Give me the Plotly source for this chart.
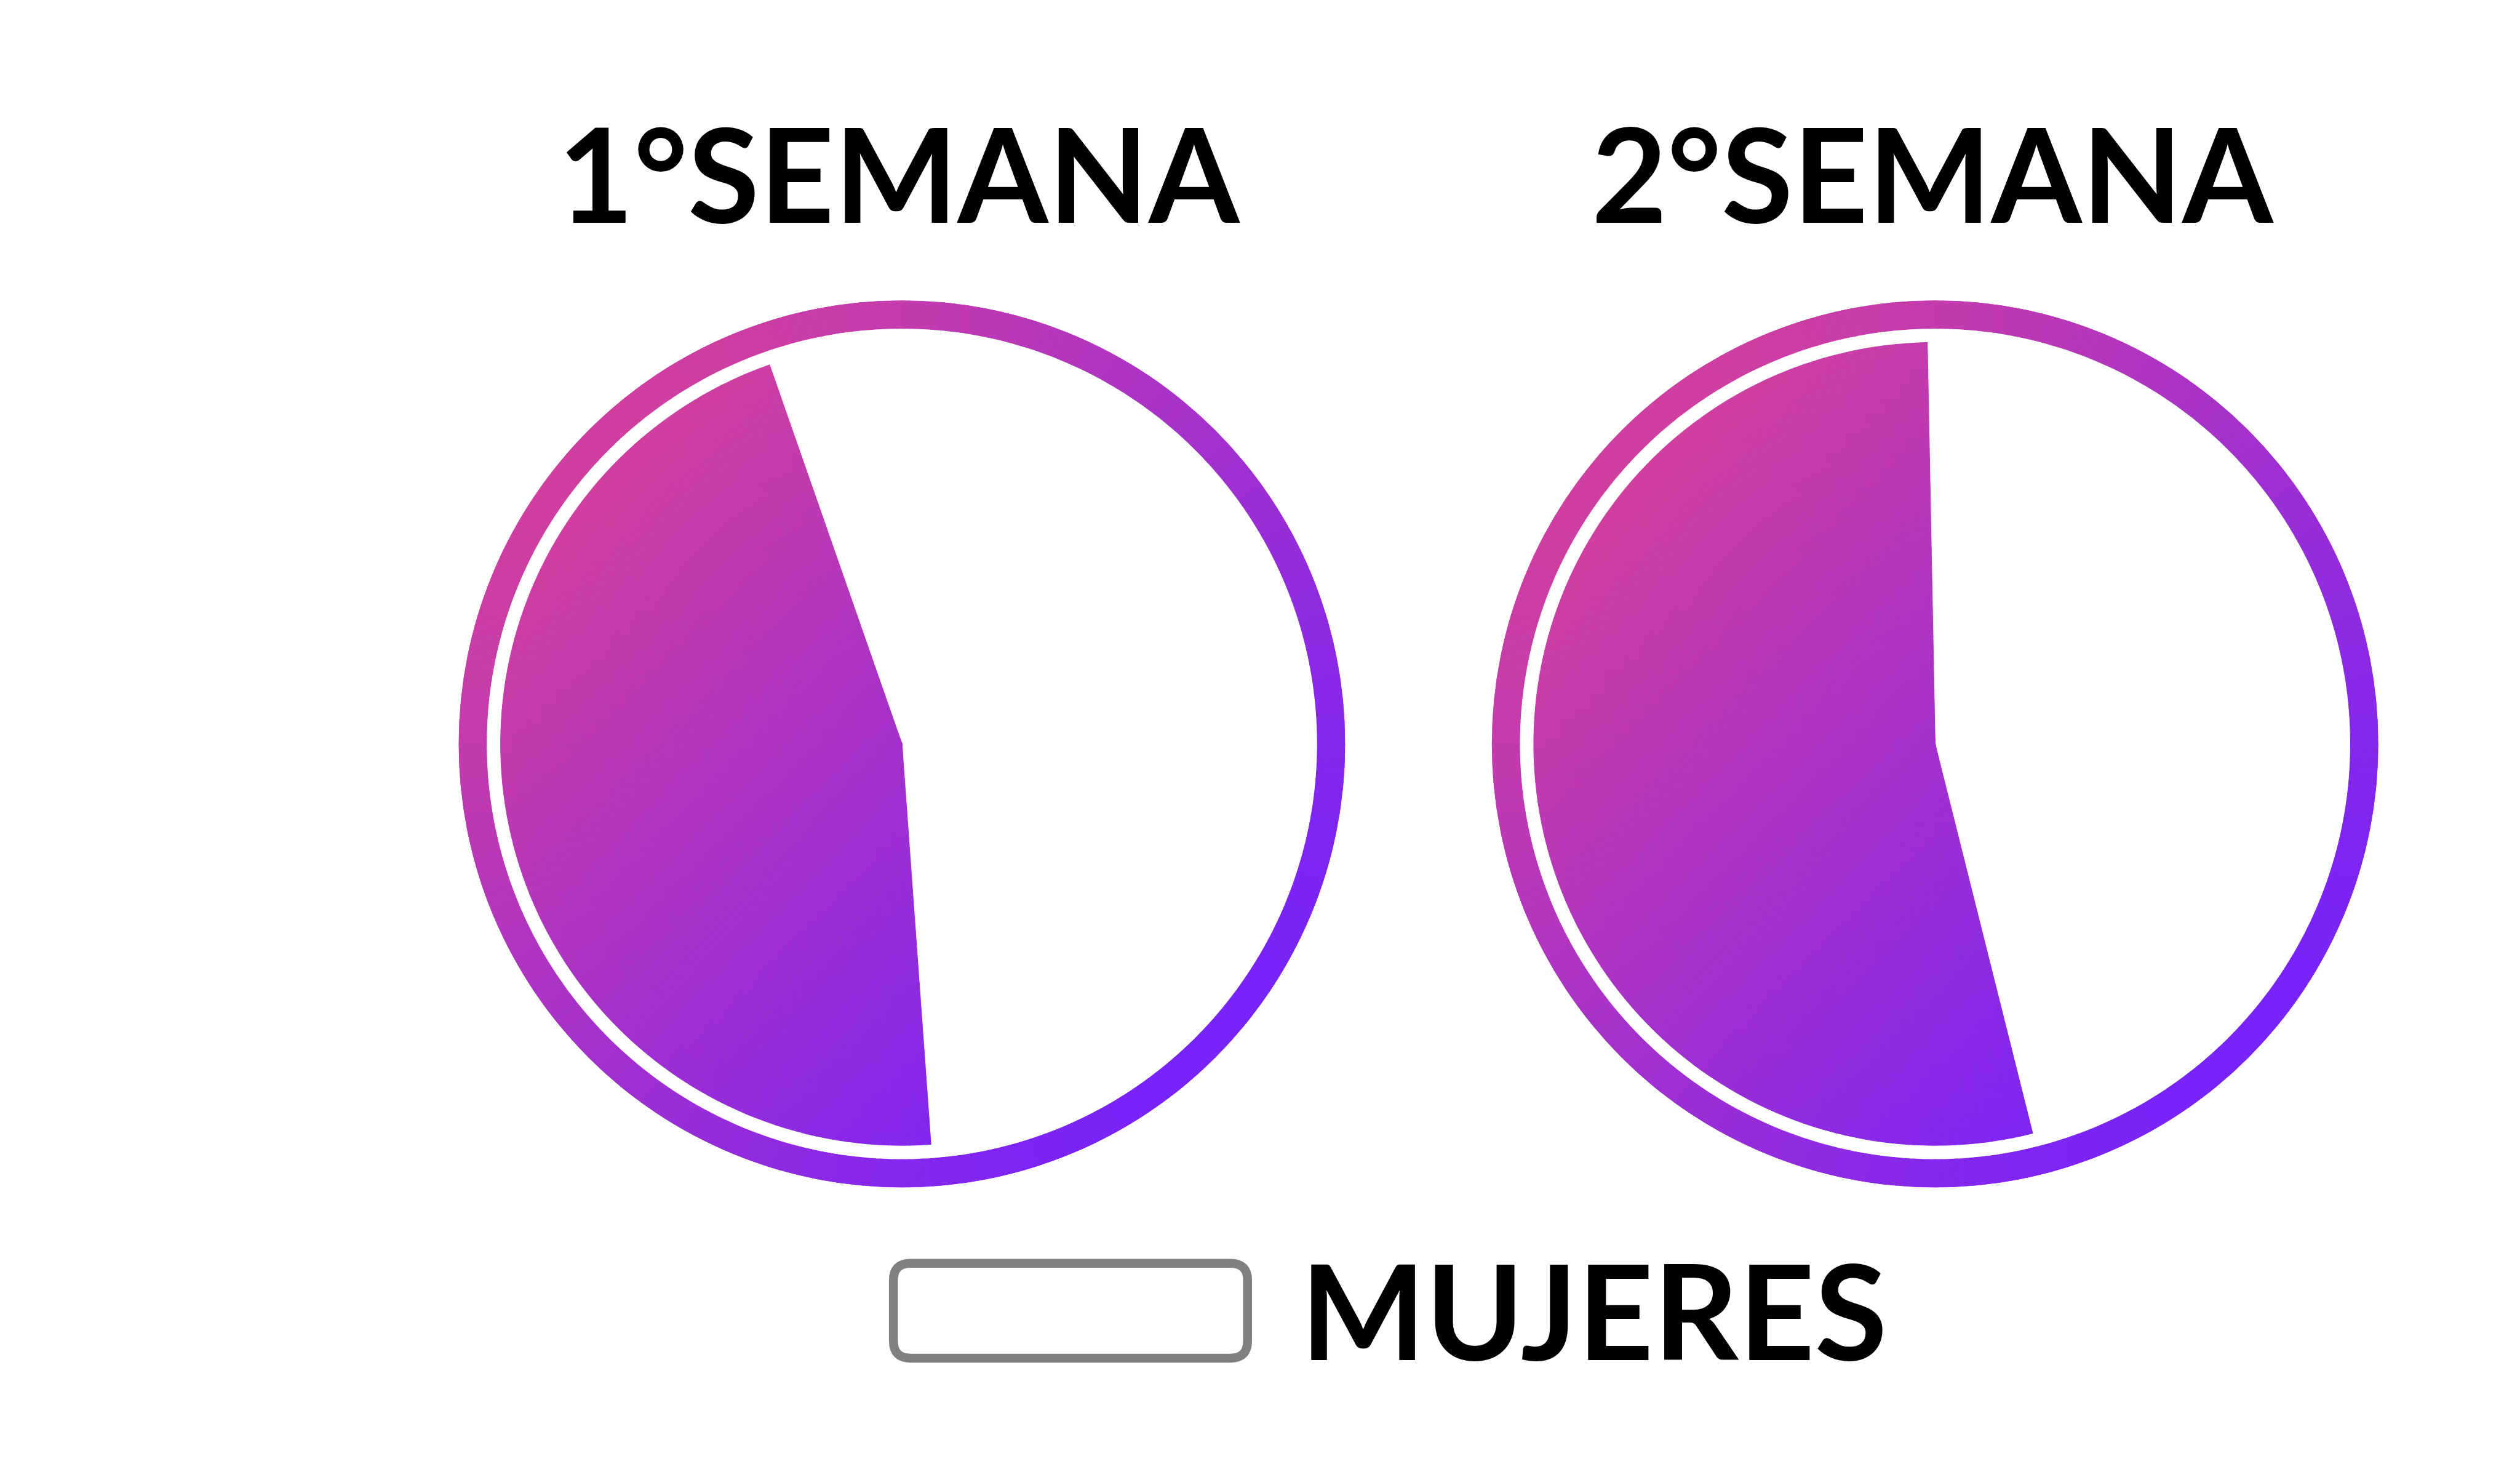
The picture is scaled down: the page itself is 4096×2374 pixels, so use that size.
import numpy as np
import plotly.graph_objects as go

# ---------------- data ----------------
WEEKS = ["1°SEMANA", "2°SEMANA"]
MUJERES_PCT = [45.8, 53.6]          # share of the coloured slice, per week
LEGEND_LABEL = "MUJERES"

# ---------------- layout constants (reference pixel units) ----------------
W, H = 4096, 2374
S = W / 7087.0
CENTERS_REF = [(2536.5, 2091.5), (5442.0, 2091.5)]
R_OUT, RING_W, R_PIE = 1246.5, 78.0, 1128.5
START_DEG = [175.86, 165.93]        # clockwise from 12 o'clock: where the slice starts
C_A = np.array([228, 70, 140])      # gradient start (top-left)
C_B = np.array([100, 29, 270])      # gradient end (bottom-right)


def grad(t):
    c = np.clip(C_A + (C_B - C_A) * t, 0, 255).astype(int)
    return f"rgb({c[0]},{c[1]},{c[2]})"


def xy(r, th):
    th = np.radians(th)
    return r * np.sin(th), -r * np.cos(th)


fig = go.Figure()
layout_polars = {}

for k, (pct, (cx, cy), a0) in enumerate(zip(MUJERES_PCT, CENTERS_REF, START_DEG)):
    pname = "polar" if k == 0 else f"polar{k+1}"
    # ---- outer ring (gradient approximated by small cells) ----
    n_ring = 360
    th_ring = (np.arange(n_ring) + 0.5) * 360 / n_ring
    rc = R_OUT - RING_W / 2
    x, y = xy(rc, th_ring)
    t = ((x + R_OUT) / (2 * R_OUT) + (y + R_OUT) / (2 * R_OUT)) / 2
    ring_cols = [grad(v) for v in t]
    fig.add_trace(go.Barpolar(
        theta=th_ring, r=[RING_W] * n_ring, base=[R_OUT - RING_W] * n_ring,
        width=[360 / n_ring] * n_ring,
        marker=dict(color=ring_cols, line=dict(color=ring_cols, width=1.2)),
        hoverinfo="skip", subplot=pname, showlegend=False))

    # ---- slice (Mujeres); gradient spans the whole pie's box ----
    span = pct / 100.0 * 360.0
    n_ang = int(np.ceil(span / 1.5))
    dth = span / n_ang
    n_rad = 30
    dr = R_PIE / n_rad
    thetas, rs, bases, cols = [], [], [], []
    for i in range(n_ang):
        thc = a0 + (i + 0.5) * dth
        for j in range(n_rad):
            rcc = (j + 0.5) * dr
            px, py = xy(rcc, thc)
            tt = ((px + R_PIE) / (2 * R_PIE) + (py + R_PIE) / (2 * R_PIE)) / 2
            thetas.append(thc)
            rs.append(dr)
            bases.append(j * dr)
            cols.append(grad(tt))
    fig.add_trace(go.Barpolar(
        theta=thetas, r=rs, base=bases, width=[dth] * len(thetas),
        marker=dict(color=cols, line=dict(color=cols, width=1.2)),
        hoverinfo="skip", subplot=pname, showlegend=False, name=WEEKS[k]))

    # polar domain so that 1 radial unit = 1 reference pixel
    ox, oy = cx * S, cy * S
    rr = R_OUT * S
    layout_polars[pname] = dict(
        domain=dict(x=[(ox - rr) / W, (ox + rr) / W],
                    y=[(H - oy - rr) / H, (H - oy + rr) / H]),
        radialaxis=dict(visible=False, range=[0, R_OUT]),
        angularaxis=dict(visible=False, rotation=90, direction="clockwise"),
        bgcolor="rgba(0,0,0,0)", barmode="overlay")

    # title
    fig.add_annotation(text=WEEKS[k], x=(ox - 4) / W, y=1 - 280.0 / H,
                       xref="paper", yref="paper", xanchor="center", yanchor="middle",
                       showarrow=False,
                       font=dict(family="Lato", size=212, color="black", weight="bold"))

# ---------------- legend (drawn) ----------------
lx0, lx1, ly0, ly1 = 1444.9, 2035.0, 2045.4, 2214.2
lw = 14.5
x0, x1, y0, y1 = lx0 + lw / 2, lx1 - lw / 2, ly0 + lw / 2, ly1 - lw / 2
rad = 28


def P(px, py):
    return f"{px / W:.6f},{1 - py / H:.6f}"


path = (f"M {P(x0 + rad, y0)} L {P(x1 - rad, y0)} Q {P(x1, y0)} {P(x1, y0 + rad)} "
        f"L {P(x1, y1 - rad)} Q {P(x1, y1)} {P(x1 - rad, y1)} "
        f"L {P(x0 + rad, y1)} Q {P(x0, y1)} {P(x0, y1 - rad)} "
        f"L {P(x0, y0 + rad)} Q {P(x0, y0)} {P(x0 + rad, y0)} Z")
fig.add_shape(type="path", path=path, xref="paper", yref="paper",
              line=dict(color="#808080", width=lw), fillcolor="white")
fig.add_annotation(text=LEGEND_LABEL, x=2112 / W, y=1 - 2126.5 / H,
                   xref="paper", yref="paper", xanchor="left", yanchor="middle",
                   showarrow=False,
                   font=dict(family="Lato", size=215, color="black", weight="bold"))

fig.update_layout(width=W, height=H, margin=dict(l=0, r=0, t=0, b=0),
                  paper_bgcolor="white", plot_bgcolor="white", showlegend=False,
                  **layout_polars)

fig.write_html("out.html", config={"displayModeBar": False},
               post_script="document.body.style.margin='0';document.body.style.overflow='hidden';")
